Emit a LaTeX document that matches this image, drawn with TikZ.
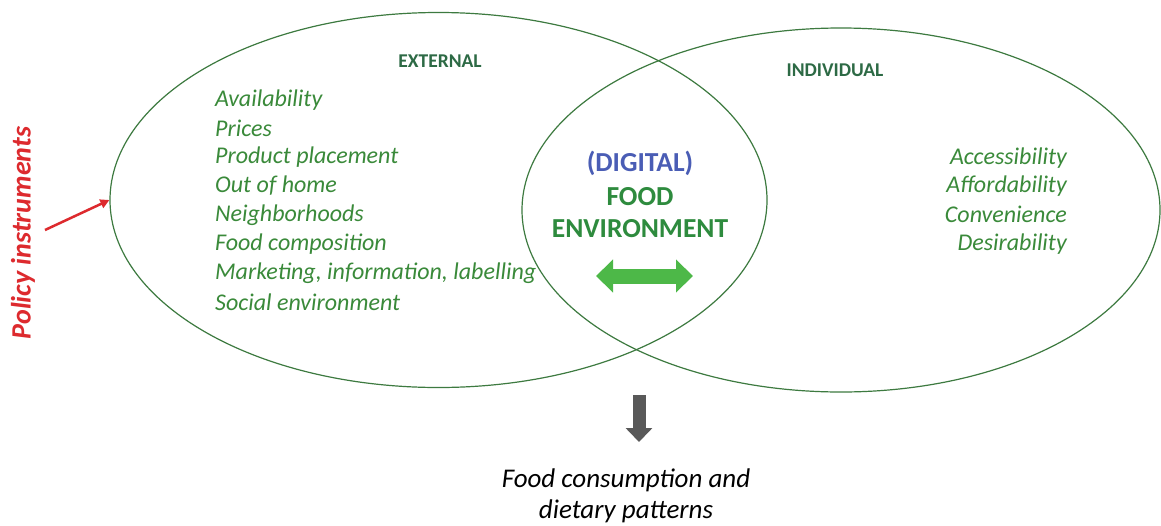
\documentclass[tikz,border=0pt]{standalone}
\usepackage{fontspec}
\setmainfont{Carlito}
\usetikzlibrary{shapes.geometric,arrows.meta}
\definecolor{ellcol}{HTML}{3D7A40}
\definecolor{itemcol}{HTML}{3A8A3A}
\definecolor{headcol}{HTML}{2D6A45}
\definecolor{digcol}{HTML}{4A5DB5}
\definecolor{fecol}{HTML}{2E8B3E}
\definecolor{arrgreen}{HTML}{4DB848}
\definecolor{polred}{HTML}{DD2A2E}
\definecolor{darrow}{HTML}{595959}
\tikzset{
  ell/.style={ellipse, draw=ellcol, line width=1.2pt, inner sep=0pt},
  head/.style={font=\fontsize{19.5}{22}\selectfont\bfseries, text=headcol, inner sep=0pt},
  litem/.style={font=\fontsize{24}{28}\selectfont\itshape, text=itemcol, anchor=west, inner sep=0pt},
  ritem/.style={font=\fontsize{24}{28}\selectfont\itshape, text=itemcol, anchor=east, inner sep=0pt},
  centre/.style={font=\fontsize{27.5}{31}\selectfont\bfseries, inner sep=0pt},
  outtext/.style={font=\fontsize{27}{31}\selectfont\itshape, text=black, inner sep=0pt},
}
\begin{document}
\begin{tikzpicture}[x=1pt,y=-1pt]
\useasboundingbox[fill=white] (0,0) rectangle (1161,525);
\node[ell, minimum width=657pt, minimum height=375pt] (L) at (438.5,200) {};
\node[ell, minimum width=638pt, minimum height=364pt] (R) at (841,210) {};
\node[head] (ext) at (440,61) {EXTERNAL};
\node[head] (ind) at (835,70) {INDIVIDUAL};
\node[litem] (l1) at (215,100) {Availability};
\node[litem] (l2) at (215,128) {Prices};
\node[litem] (l3) at (215,157) {Product placement};
\node[litem] (l4) at (215,186) {Out of home};
\node[litem] (l5) at (215,215) {Neighborhoods};
\node[litem] (l6) at (215,244) {Food composition};
\node[litem] (l7) at (215,273) {Marketing, information, labelling};
\node[litem] (l8) at (215,302) {Social environment};
\node[ritem] (r1) at (1067,158) {Accessibility};
\node[ritem] (r2) at (1067,186) {Affordability};
\node[ritem] (r3) at (1067,214) {Convenience};
\node[ritem] (r4) at (1067,244) {Desirability};
\node[centre, text=digcol] (dig) at (640,163) {(DIGITAL)};
\node[centre, text=fecol] (food) at (640,197) {FOOD};
\node[centre, text=fecol] (env) at (640,229) {ENVIRONMENT};
\coordinate (ga) at (596,276);
\coordinate (gb) at (693,276);
\draw[arrgreen, line width=15pt, {Triangle[width=32pt,length=17pt]}-{Triangle[width=32pt,length=17pt]}] (ga) -- (gb);
\node[font=\fontsize{28}{32}\selectfont\bfseries\itshape, text=polred, rotate=90, inner sep=0pt] (pol) at (23,233) {Policy instruments};
\coordinate (pstart) at (45,230);
\draw[polred, line width=2.5pt, -{Triangle[width=9pt,length=9pt]}] (pstart) -- (L.west);
\node[outtext] (o1) at (626,480) {Food consumption and};
\node[outtext] (o2) at (626,511) {dietary patterns};
\coordinate (dtop) at (639,395);
\coordinate (dtip) at (639,442);
\draw[darrow, line width=13pt, -{Triangle[width=26pt,length=14pt]}] (dtop) -- (dtip);
\end{tikzpicture}
\end{document}
